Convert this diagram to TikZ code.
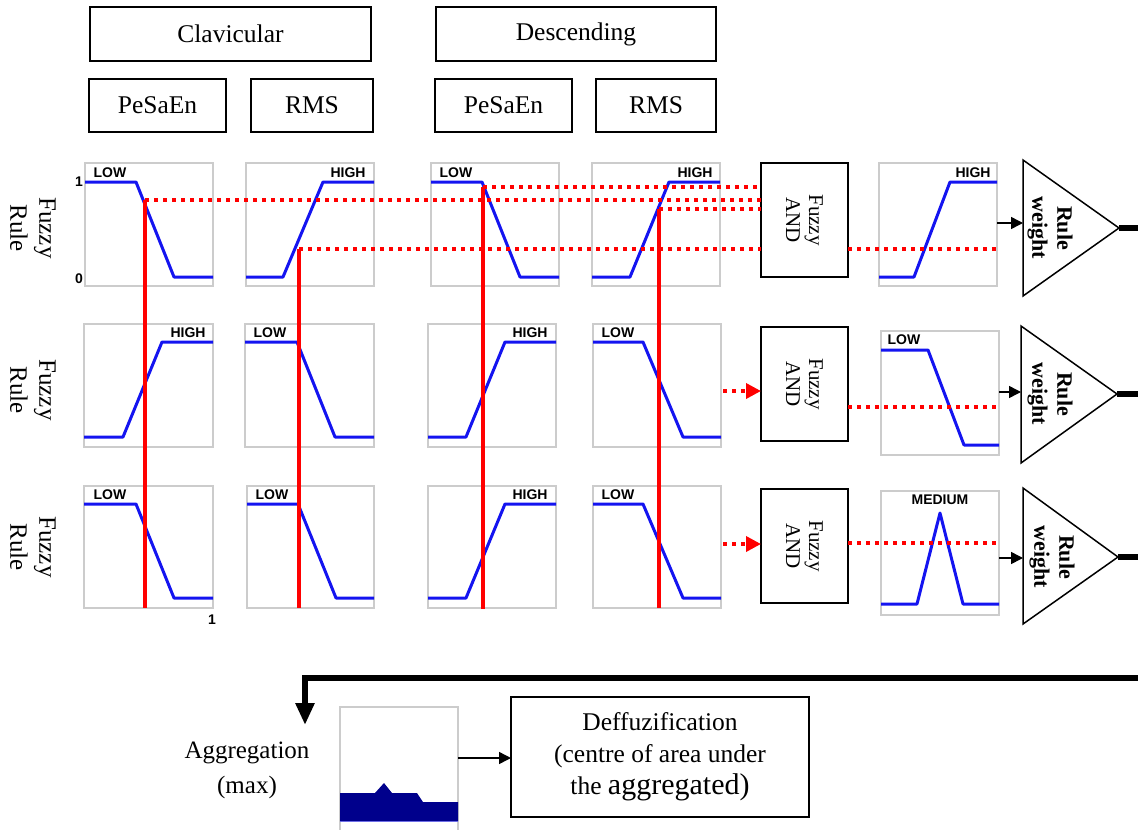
\documentclass[tikz,border=0pt]{standalone}
\usepackage{fontspec}
\setmainfont{Liberation Serif}
\newfontfamily\labfont{Liberation Sans}
\usetikzlibrary{arrows.meta,fit,calc}
\definecolor{mfblue}{RGB}{20,20,240}
\definecolor{aggnavy}{RGB}{0,0,140}
\definecolor{agglight}{RGB}{110,110,230}
\begin{document}
\begin{tikzpicture}[x=1pt,y=-1pt,
  hbox/.style={draw, line width=1.3pt, inner sep=0pt, outer sep=0pt},
  htxt/.style={inner sep=0pt, font=\fontsize{25.5}{29}\selectfont},
  pf/.style={draw=black!20, line width=1.3pt, inner sep=0pt, outer sep=0pt},
  mf/.style={draw=mfblue, line width=3pt, line join=round},
  ml/.style={font=\labfont\bfseries\fontsize{14}{14}\selectfont, inner sep=0pt},
  redv/.style={red, line width=4pt},
  reddot/.style={red, line width=3.5pt, dash pattern=on 4pt off 5pt},
  rarrow/.style={reddot, -{Triangle[length=15pt,width=15pt]}},
  fand/.style={draw, line width=1.5pt, inner sep=0pt, outer sep=0pt},
  rotlab/.style={rotate=-90, align=center, inner sep=0pt},
  andtxt/.style={rotlab, font=\fontsize{21}{23}\selectfont},
  rwtxt/.style={rotlab, font=\bfseries\fontsize{22}{25}\selectfont},
  fuzrule/.style={rotlab, font=\fontsize{25}{29}\selectfont},
  tri/.style={draw, line width=1.5pt, line join=miter},
  barr/.style={line width=1.5pt, -{Triangle[length=12pt,width=12pt]}},
  heavy/.style={line width=6pt},
]
\useasboundingbox (0,0) rectangle (1138,830);

% ---- header boxes
\node[hbox, fit={(90,7) (371,61)}] (clav) {};
\node[hbox, fit={(436,7) (716,61)}] (desc) {};
\node[hbox, fit={(89,79) (226,132)}] (pes1) {};
\node[hbox, fit={(251,79) (373,132)}] (rms1) {};
\node[hbox, fit={(435,79) (572,132)}] (pes2) {};
\node[hbox, fit={(596,79) (716,132)}] (rms2) {};
\node[htxt] (clavt) at (clav.center) {Clavicular};
\node[htxt] (desct) at (desc.center) {Descending};
\node[htxt] (pes1t) at (pes1.center) {PeSaEn};
\node[htxt] (rms1t) at (rms1.center) {RMS};
\node[htxt] (pes2t) at (pes2.center) {PeSaEn};
\node[htxt] (rms2t) at (rms2.center) {RMS};

% ---- row labels
\node[fuzrule] (fr1) at (33,228) {Fuzzy\\Rule};
\node[fuzrule] (fr2) at (33,390) {Fuzzy\\Rule};
\node[fuzrule] (fr3) at (33,547) {Fuzzy\\Rule};

% ---- plot frames
\node[pf, fit={(85,163) (213,286)}] (p11) {};
\node[pf, fit={(246,163) (374,286)}] (p12) {};
\node[pf, fit={(431,163) (559,286)}] (p13) {};
\node[pf, fit={(592,163) (720,286)}] (p14) {};
\node[pf, fit={(879,163) (997,286)}] (p15) {};
\node[pf, fit={(84,324) (213,447)}] (p21) {};
\node[pf, fit={(245,324) (374,447)}] (p22) {};
\node[pf, fit={(428,324) (556,447)}] (p23) {};
\node[pf, fit={(593,324) (721,447)}] (p24) {};
\node[pf, fit={(881,331) (999,455)}] (p25) {};
\node[pf, fit={(84,486) (213,608)}] (p31) {};
\node[pf, fit={(247,486) (374,608)}] (p32) {};
\node[pf, fit={(428,486) (556,608)}] (p33) {};
\node[pf, fit={(593,486) (721,608)}] (p34) {};
\node[pf, fit={(881,491) (999,615)}] (p35) {};

% ---- membership functions
\draw[mf] (85,182) -- (136,182) -- (174,277) -- (213,277);
\draw[mf] (246,277) -- (283,277) -- (323,182) -- (374,182);
\draw[mf] (431,182) -- (482,182) -- (520,277) -- (559,277);
\draw[mf] (592,277) -- (630,277) -- (669,182) -- (720,182);
\draw[mf] (879,277) -- (914,277) -- (950,182) -- (997,182);
\draw[mf] (84,437) -- (123,437) -- (162,342) -- (213,342);
\draw[mf] (245,342) -- (297,342) -- (335,437) -- (374,437);
\draw[mf] (428,437) -- (466,437) -- (505,342) -- (556,342);
\draw[mf] (593,342) -- (643,342) -- (683,437) -- (721,437);
\draw[mf] (881,350) -- (928,350) -- (964,445) -- (999,445);
\draw[mf] (84,504) -- (136,504) -- (174,598) -- (213,598);
\draw[mf] (247,504) -- (298,504) -- (336,598) -- (374,598);
\draw[mf] (428,598) -- (466,598) -- (505,504) -- (556,504);
\draw[mf] (593,504) -- (643,504) -- (683,598) -- (721,598);
\draw[mf] (881,604) -- (917,604) -- (940,513) -- (963,604) -- (999,604);

% ---- membership labels
\node[ml] (l11) at (110,173) {LOW};
\node[ml] (l12) at (348,173) {HIGH};
\node[ml] (l13) at (456,173) {LOW};
\node[ml] (l14) at (695,173) {HIGH};
\node[ml] (l15) at (973,173) {HIGH};
\node[ml] (l21) at (188,333) {HIGH};
\node[ml] (l22) at (270,333) {LOW};
\node[ml] (l23) at (530,333) {HIGH};
\node[ml] (l24) at (618,333) {LOW};
\node[ml] (l25) at (904,340) {LOW};
\node[ml] (l31) at (110,495) {LOW};
\node[ml] (l32) at (272,495) {LOW};
\node[ml] (l33) at (530,495) {HIGH};
\node[ml] (l34) at (618,495) {LOW};
\node[ml] (l35) at (940,500) {MEDIUM};
\node[ml] (ax1) at (79,182) {1};
\node[ml] (ax0) at (79,279) {0};
\node[ml] (axx) at (212,620) {1};

% ---- Fuzzy AND boxes
\node[fand, fit={(761,163) (848,277)}] (fa1) {};
\node[fand, fit={(761,327) (848,441)}] (fa2) {};
\node[fand, fit={(761,489) (848,603)}] (fa3) {};
\node[andtxt] (fat1) at (fa1.center) {Fuzzy\\AND};
\node[andtxt] (fat2) at (fa2.center) {Fuzzy\\AND};
\node[andtxt] (fat3) at (fa3.center) {Fuzzy\\AND};

% ---- red measurement lines
\coordinate (r1t) at (145,200); \coordinate (r1b) at (145,608);
\coordinate (r2t) at (299,249); \coordinate (r2b) at (299,608);
\coordinate (r3t) at (483,187); \coordinate (r3b) at (483,609);
\coordinate (r4t) at (659,209); \coordinate (r4b) at (659,608);
\draw[redv] (r1t) -- (r1b);
\draw[redv] (r2t) -- (r2b);
\draw[redv] (r3t) -- (r3b);
\draw[redv] (r4t) -- (r4b);
\draw[reddot] (r3t) -- (r3t -| fa1.west);
\draw[reddot] (r1t) -- (r1t -| fa1.west);
\draw[reddot] (r4t) -- (r4t -| fa1.west);
\draw[reddot] (r2t) -- (r2t -| fa1.west);
\draw[reddot] (fa1.east |- r2t) -- (p15.east |- r2t);

\coordinate (a2) at (723,391);
\coordinate (a3) at (723,544);
\draw[rarrow] (a2) -- (a2 -| fa2.west);
\draw[rarrow] (a3) -- (a3 -| fa3.west);
\draw[reddot] (fa2.east |- 0,407) -- (p25.east |- 0,407);
\draw[reddot] (fa3.east |- 0,543) -- (p35.east |- 0,543);

% ---- rule weight triangles
\coordinate (t1a) at (1023,160); \coordinate (t1b) at (1023,296); \coordinate (t1tip) at (1119,228);
\coordinate (t2a) at (1021,326); \coordinate (t2b) at (1021,463); \coordinate (t2tip) at (1117,394);
\coordinate (t3a) at (1023,488); \coordinate (t3b) at (1023,624); \coordinate (t3tip) at (1118,557);
\draw[tri] (t1a) -- (t1b) -- (t1tip) -- cycle;
\draw[tri] (t2a) -- (t2b) -- (t2tip) -- cycle;
\draw[tri] (t3a) -- (t3b) -- (t3tip) -- cycle;
\node[rwtxt] (rw1) at (1050,228) {Rule\\weight};
\node[rwtxt] (rw2) at (1050,394) {Rule\\weight};
\node[rwtxt] (rw3) at (1052,557) {Rule\\weight};

\coordinate (t1in) at (1023,223);
\coordinate (t2in) at (1021,392);
\coordinate (t3in) at (1023,558);
\draw[barr] (p15.east |- t1in) -- (t1in);
\draw[barr] (p25.east |- t2in) -- (t2in);
\draw[barr] (p35.east |- t3in) -- (t3in);

\coordinate (redge) at (1138,678);
\draw[heavy] (t1tip) -- (t1tip -| redge);
\draw[heavy] (t2tip) -- (t2tip -| redge);
\draw[heavy] (t3tip) -- (t3tip -| redge);

% ---- aggregation
\coordinate (aggin) at (305,725);
\draw[heavy, line join=miter, -{Triangle[length=22pt,width=18pt]}] (redge) -- (aggin |- redge) -- (aggin);
\node[align=center, inner sep=0pt, font=\fontsize{25}{35}\selectfont] (aggtxt) at (247,770) {Aggregation\\(max)};
\node[pf, fit={(340,707) (458,834)}] (agg) {};
\fill[aggnavy] (340,821) -- (340,793) -- (375,793) -- (384,783) -- (392,793) -- (417,793) -- (423,802) -- (458,802) -- (458,821) -- cycle;
\draw[agglight, line width=1pt] (340,821.5) -- (458,821.5);

\node[hbox, fit={(511,697) (809,817)}] (df) {};
\node[align=center, inner sep=0pt, font=\fontsize{25.5}{32}\selectfont] (dftxt) at (df.center) {Deffuzification\\(centre of area under\\the {\fontsize{30}{32}\selectfont aggregated)}};
\draw[barr] (agg.east |- 0,758) -- (df.west |- 0,758);
\end{tikzpicture}
\end{document}
